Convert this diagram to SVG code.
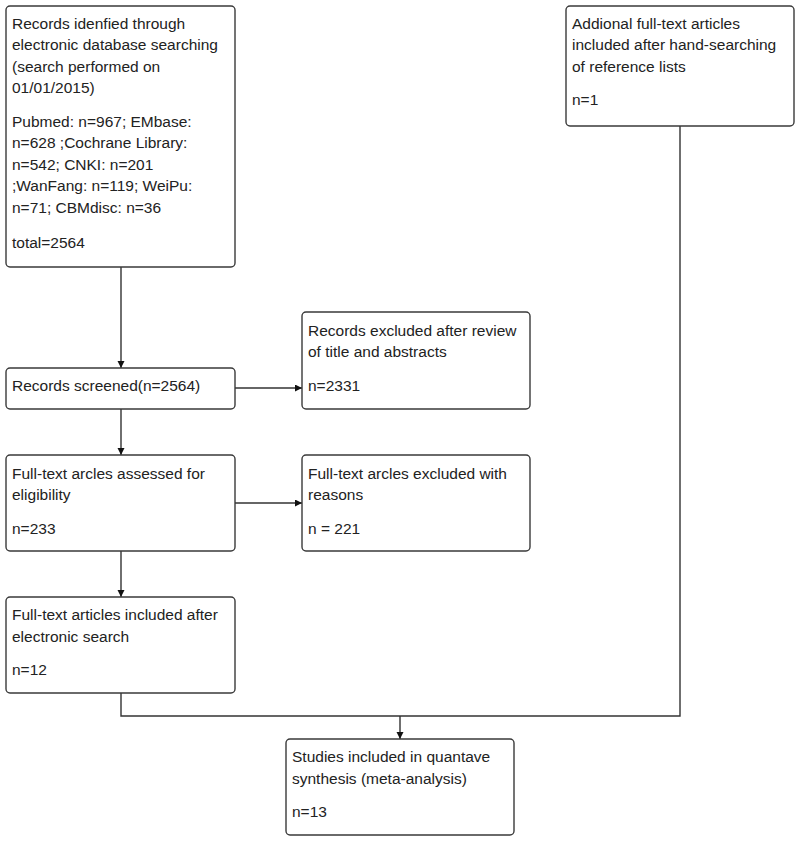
<svg xmlns="http://www.w3.org/2000/svg" width="800" height="841" viewBox="0 0 800 841">
<style>
.box{fill:#fff;stroke:#3a3a3a;stroke-width:1.4}
.t{font-family:"Liberation Sans",Arial,sans-serif;font-size:15.5px;fill:#222}
.c{fill:none;stroke:#333;stroke-width:1.4}
</style>
<defs>
<marker id="ah" markerWidth="8" markerHeight="8" refX="7" refY="3.5" orient="auto" markerUnits="userSpaceOnUse">
<path d="M0,0 L7,3.5 L0,7 Z" fill="#111"/>
</marker>
</defs>
<rect width="800" height="841" fill="#fff"/>
<g id="connectors">
<line class="c" x1="121" y1="267" x2="121" y2="368" marker-end="url(#ah)"/>
<line class="c" x1="235" y1="388" x2="302" y2="388" marker-end="url(#ah)"/>
<line class="c" x1="121" y1="409" x2="121" y2="455" marker-end="url(#ah)"/>
<line class="c" x1="235" y1="503" x2="302" y2="503" marker-end="url(#ah)"/>
<line class="c" x1="121" y1="551" x2="121" y2="597" marker-end="url(#ah)"/>
<polyline class="c" points="121,693 121,716 680,716 680,126"/>
<line class="c" x1="400" y1="716" x2="400" y2="739" marker-end="url(#ah)"/>
</g>
<g id="n1">
<rect class="box" x="6" y="6" width="229" height="261" rx="4"/>
<text class="t" x="12" y="28.5">Records idenfied through</text>
<text class="t" x="12" y="50">electronic database searching</text>
<text class="t" x="12" y="71.5">(search performed on</text>
<text class="t" x="12" y="93">01/01/2015)</text>
<text class="t" x="12" y="126.5">Pubmed: n=967; EMbase:</text>
<text class="t" x="12" y="148">n=628 ;Cochrane Library:</text>
<text class="t" x="12" y="169.5">n=542; CNKI: n=201</text>
<text class="t" x="12" y="191">;WanFang: n=119; WeiPu:</text>
<text class="t" x="12" y="213">n=71; CBMdisc: n=36</text>
<text class="t" x="12" y="247.5">total=2564</text>
</g>
<g id="n2">
<rect class="box" x="566" y="6" width="228" height="120" rx="4"/>
<text class="t" x="572" y="28.5">Addional full-text articles</text>
<text class="t" x="572" y="50">included after hand-searching</text>
<text class="t" x="572" y="71.5">of reference lists</text>
<text class="t" x="572" y="105">n=1</text>
</g>
<g id="n3">
<rect class="box" x="6" y="368" width="229" height="41" rx="4"/>
<text class="t" x="12" y="390.5">Records screened(n=2564)</text>
</g>
<g id="n4">
<rect class="box" x="302" y="312" width="228" height="97" rx="4"/>
<text class="t" x="308" y="335.5">Records excluded after review</text>
<text class="t" x="308" y="357">of title and abstracts</text>
<text class="t" x="308" y="390.5">n=2331</text>
</g>
<g id="n5">
<rect class="box" x="6" y="455" width="229" height="96" rx="4"/>
<text class="t" x="12" y="478.5">Full-text arcles assessed for</text>
<text class="t" x="12" y="500">eligibility</text>
<text class="t" x="12" y="533.5">n=233</text>
</g>
<g id="n6">
<rect class="box" x="302" y="455" width="228" height="96" rx="4"/>
<text class="t" x="308" y="478.5">Full-text arcles excluded with</text>
<text class="t" x="308" y="500">reasons</text>
<text class="t" x="308" y="533.5">n = 221</text>
</g>
<g id="n7">
<rect class="box" x="6" y="597" width="229" height="96" rx="4"/>
<text class="t" x="12" y="620">Full-text articles included after</text>
<text class="t" x="12" y="641.5">electronic search</text>
<text class="t" x="12" y="675">n=12</text>
</g>
<g id="n8">
<rect class="box" x="286" y="739" width="228" height="96" rx="4"/>
<text class="t" x="292" y="762">Studies included in quantave</text>
<text class="t" x="292" y="783.5">synthesis (meta-analysis)</text>
<text class="t" x="292" y="817">n=13</text>
</g>
</svg>
